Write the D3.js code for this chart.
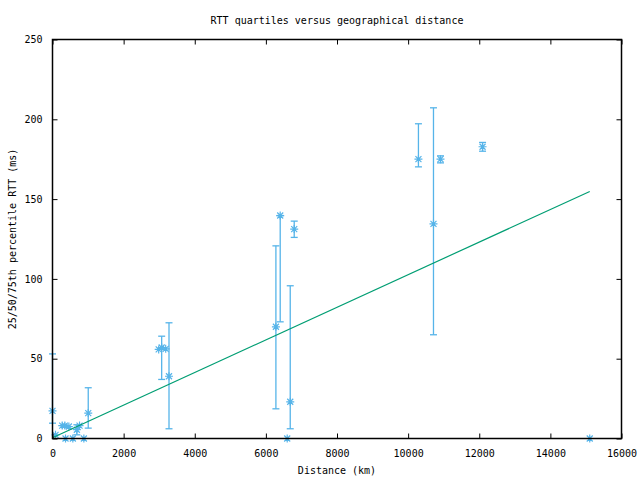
<!DOCTYPE html>
<html><head><meta charset="utf-8">
<script src="https://cdn.jsdelivr.net/npm/d3@7"></script>
<style>body{margin:0;background:#fff}svg{display:block}text{font-family:"DejaVu Sans Mono","Liberation Mono",monospace;font-size:10px;fill:#000}</style>
</head><body>
<svg id="c" width="640" height="480"></svg>
<script>
const distance = [0, 85, 273, 347, 460, 685, 760, 366, 572, 882, 1005, 2986, 3070, 3183, 3276, 6282, 6403, 6685, 6600, 6797, 10290, 10713, 10910, 12093, 15107];
const median   = [17.3, 2.3, 8.1, 8.1, 7.5, 5.5, 8.1, 0, 0, 0, 15.9, 55.8, 57, 56.2, 39, 70, 139.7, 23, 0, 131.2, 175, 134.5, 175, 182.8, 0];
const q25      = [9.6, null, null, null, null, 2.3, null, null, null, null, 6.5, null, 37, null, 6.1, 18.6, 73.1, 6.1, null, 126, 170.2, 65, 172.7, 180, null];
const q75      = [53, null, null, null, null, 8.6, null, null, null, null, 31.8, null, 64.1, null, 72.5, 120.7, 139.7, 95.7, null, 136.2, 197.2, 207.2, 177.1, 185.5, null];
const fitX = [0, 15107];
const fitY = [0.5, 154.8];
const xTicks = [0, 2000, 4000, 6000, 8000, 10000, 12000, 14000, 16000];
const yTicks = [0, 50, 100, 150, 200, 250];

const svg = d3.select("#c");
const L = 52.5, R = 621.5, T = 39.5, B = 438.5;
const x = d3.scaleLinear().domain([0, 16000]).range([L, R]);
const y = d3.scaleLinear().domain([0, 250]).range([B, T]);
const blue = "#56b4e9", green = "#009e73";

// error bars
const eb = svg.append("g").attr("stroke", blue).attr("stroke-width", 1.3).attr("fill", "none");
distance.forEach((d, i) => {
  if (q25[i] == null) return;
  const cx = x(d), cw = 3.5;
  eb.append("line").attr("x1", cx).attr("x2", cx).attr("y1", y(q25[i])).attr("y2", y(q75[i]));
  eb.append("line").attr("x1", cx - cw).attr("x2", cx + cw).attr("y1", y(q25[i])).attr("y2", y(q25[i]));
  eb.append("line").attr("x1", cx - cw).attr("x2", cx + cw).attr("y1", y(q75[i])).attr("y2", y(q75[i]));
});
// star markers
const s = 4;
const mk = svg.append("g").attr("stroke", blue).attr("stroke-width", 1.2);
distance.forEach((d, i) => {
  const cx = x(d), cy = y(median[i]);
  mk.append("path").attr("d", `M${cx-s},${cy}H${cx+s}M${cx},${cy-s}V${cy+s}M${cx-s*0.75},${cy-s*0.75}L${cx+s*0.75},${cy+s*0.75}M${cx-s*0.75},${cy+s*0.75}L${cx+s*0.75},${cy-s*0.75}`);
});
// fit line
svg.append("path").datum(fitX.map((d, i) => [d, fitY[i]]))
  .attr("d", d3.line().x(d => x(d[0])).y(d => y(d[1])))
  .attr("stroke", green).attr("stroke-width", 1.2).attr("fill", "none");

// axes
const tl = 5;
const ax = svg.append("g");
ax.append("g").attr("transform", `translate(0,${B})`)
  .call(d3.axisBottom(x).tickValues(xTicks).tickFormat(d3.format("d")).tickSize(-tl).tickPadding(11))
  .call(g => { g.select(".domain").remove(); });
ax.append("g").attr("transform", `translate(0,${T})`)
  .call(d3.axisTop(x).tickValues(xTicks).tickFormat("").tickSize(-tl))
  .call(g => g.select(".domain").remove());
ax.append("g").attr("transform", `translate(${L},0)`)
  .call(d3.axisLeft(y).tickValues(yTicks).tickSize(-tl).tickPadding(10))
  .call(g => { g.select(".domain").remove(); });
ax.append("g").attr("transform", `translate(${R},0)`)
  .call(d3.axisRight(y).tickValues(yTicks).tickFormat("").tickSize(-tl))
  .call(g => g.select(".domain").remove());
ax.selectAll(".tick line").attr("stroke", "#000");
ax.selectAll("g").attr("font-size", null).attr("font-family", null);
svg.append("rect").attr("x", L).attr("y", T).attr("width", R - L).attr("height", B - T)
  .attr("fill", "none").attr("stroke", "#000").attr("stroke-width", 1.5);

svg.append("text").attr("x", (L + R) / 2).attr("y", 24).attr("text-anchor", "middle").text("RTT quartiles versus geographical distance");
svg.append("text").attr("x", (L + R) / 2).attr("y", 474).attr("text-anchor", "middle").text("Distance (km)");
svg.append("text").attr("transform", `translate(16,${(T + B) / 2}) rotate(-90)`).attr("text-anchor", "middle").text("25/50/75th percentile RTT (ms)");
</script>
</body></html>
